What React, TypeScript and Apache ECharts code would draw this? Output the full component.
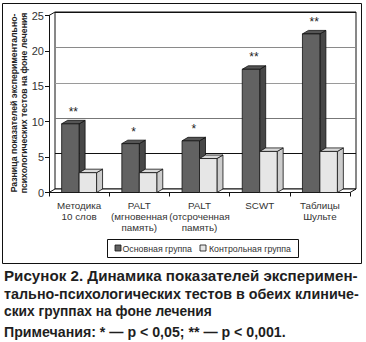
import React, { useEffect, useRef } from "react";
import * as echarts from "echarts";

const categories = [
  "Методика\n10 слов",
  "PALT\n(мгновенная\nпамять)",
  "PALT\n(отсроченная\nпамять)",
  "SCWT",
  "Таблицы\nШульте",
];
const mainGroup = [9.7, 6.9, 7.3, 17.4, 22.4];
const controlGroup = [2.8, 2.8, 4.8, 5.8, 5.8];
const significance = ["**", "*", "*", "**", "**"];
const seriesNames = ["Основная группа", "Контрольная группа"];
const yMin = 0;
const yMax = 25;
const yInterval = 5;
const yTitle = "Разница показателей экспериментально-\nпсихологических тестов на фоне лечения";
const captionLines = [
  "Рисунок 2. Динамика показателей эксперимен-",
  "тально-психологических тестов в обеих клиниче-",
  "ских группах на фоне лечения",
  "Примечания: * — p < 0,05; ** — p < 0,001.",
];

// layout
const W = 366;
const H = 342;
const FRONT_LEFT = 49;
const FRONT_RIGHT = 350;
const FRONT_TOP = 15.5;
const FRONT_BOTTOM = 192.5;
const DX = 6;
const DY = -3.5;
const CAP_WIDTHS = [354, 355, 208, 282];
const CAP_BASELINES = [281, 298.5, 316, 336.5];

const DARK = { front: "#626262", side: "#474747", top: "#555555" };
const LIGHT = { front: "#e6e6e6", side: "#cdcdcd", top: "#d9d9d9" };

function makeRender(kind: "main" | "control") {
  const col = kind === "main" ? DARK : LIGHT;
  return (params: any, api: any) => {
    const i = api.value(0);
    const v = api.value(1);
    const band = api.size([1, 0])[0];
    const w = band * 0.29;
    const c = api.coord([i, v]);
    const b = api.coord([i, 0]);
    const x0 = kind === "main" ? c[0] - w : c[0];
    const x1 = x0 + w;
    const yT = c[1];
    const yB = b[1];
    const stroke = { stroke: "#111", lineWidth: 0.8 };
    const children: any[] = [
      {
        type: "polygon",
        shape: {
          points: [
            [x1, yT],
            [x1 + DX, yT + DY],
            [x1 + DX, yB + DY],
            [x1, yB],
          ],
        },
        style: { fill: col.side, ...stroke },
      },
      {
        type: "polygon",
        shape: {
          points: [
            [x0, yT],
            [x0 + DX, yT + DY],
            [x1 + DX, yT + DY],
            [x1, yT],
          ],
        },
        style: { fill: col.top, ...stroke },
      },
      {
        type: "rect",
        shape: { x: x0, y: yT, width: w, height: yB - yT },
        style: { fill: col.front, ...stroke },
      },
    ];
    if (kind === "main") {
      children.push({
        type: "text",
        style: {
          text: significance[i],
          x: x0 + (w + DX) / 2,
          y: yT - 12,
          align: "center",
          verticalAlign: "middle",
          fontSize: 12,
          fontFamily: "Liberation Sans",
          fill: "#222",
        },
      });
    }
    return { type: "group", children };
  };
}

export default function App() {
  const ref = useRef<HTMLDivElement>(null);
  useEffect(() => {
    document.body.style.margin = "0";
    const chart = echarts.init(ref.current!, null, { renderer: "svg" });

    const capFont = "bold 14.5px 'Liberation Sans'";
    const cv = document.createElement("canvas");
    const ctx = cv.getContext("2d")!;
    ctx.font = capFont;

    const captionGraphics: any[] = captionLines.map((t, k) => {
      const mw = ctx.measureText(t).width || CAP_WIDTHS[k];
      return {
        type: "text",
        x: 4,
        y: CAP_BASELINES[k] - 5,
        scaleX: CAP_WIDTHS[k] / mw,
        style: {
          text: t,
          font: capFont,
          fill: "#1e1e1e",
          align: "left",
          verticalAlign: "middle",
        },
      };
    });

    const legendFont = "8.8px 'Liberation Sans'";
    const option: any = {
      animation: false,
      grid: [
        {
          left: FRONT_LEFT,
          right: W - FRONT_RIGHT,
          top: FRONT_TOP,
          bottom: H - FRONT_BOTTOM,
          show: false,
          z: 1,
        },
        {
          left: FRONT_LEFT + DX,
          right: W - FRONT_RIGHT - DX,
          top: FRONT_TOP + DY,
          bottom: H - FRONT_BOTTOM - DY,
          show: true,
          backgroundColor: "#fff",
          borderColor: "#111",
          borderWidth: 1,
          z: 0,
        },
      ],
      xAxis: [
        {
          type: "category",
          gridIndex: 0,
          data: categories,
          boundaryGap: true,
          axisLine: { show: true, lineStyle: { color: "#111", width: 1 } },
          axisTick: { show: true, length: 4, lineStyle: { color: "#111" } },
          axisLabel: {
            interval: 0,
            fontSize: 9.8,
            lineHeight: 11.3,
            color: "#333",
            fontFamily: "Liberation Sans",
            margin: 7,
          },
          splitLine: { show: false },
          z: 3,
        },
        {
          type: "category",
          gridIndex: 1,
          data: categories,
          show: false,
        },
      ],
      yAxis: [
        {
          type: "value",
          gridIndex: 0,
          min: yMin,
          max: yMax,
          interval: yInterval,
          axisLine: { show: true, lineStyle: { color: "#111", width: 1 } },
          axisTick: { show: true, length: 4, lineStyle: { color: "#111" } },
          axisLabel: {
            fontSize: 11,
            color: "#333",
            fontFamily: "Liberation Sans",
            margin: 5,
          },
          splitLine: { show: false },
        },
        {
          type: "value",
          gridIndex: 1,
          min: yMin,
          max: yMax,
          interval: yInterval,
          axisLine: { show: false },
          axisTick: { show: false },
          axisLabel: { show: false },
          splitLine: {
            show: true,
            lineStyle: {
              color: ["#111", "#111", "#777", "#9a9a9a", "#8a8a8a", "#111"],
              width: 1,
            },
          },
        },
      ],
      series: [
        {
          name: seriesNames[0],
          type: "custom",
          xAxisIndex: 0,
          yAxisIndex: 0,
          renderItem: makeRender("main"),
          data: mainGroup.map((v, i) => [i, v]),
          encode: { x: 0, y: 1 },
          clip: false,
          z: 4,
          itemStyle: { color: DARK.front },
        },
        {
          name: seriesNames[1],
          type: "custom",
          xAxisIndex: 0,
          yAxisIndex: 0,
          renderItem: makeRender("control"),
          data: controlGroup.map((v, i) => [i, v]),
          encode: { x: 0, y: 1 },
          clip: false,
          z: 5,
          itemStyle: { color: LIGHT.front },
        },
      ],
      graphic: [
        {
          type: "rect",
          z: -10,
          shape: { x: 2.5, y: 3.5, width: 359, height: 260 },
          style: { fill: "none", stroke: "#111", lineWidth: 1 },
        },
        {
          type: "polygon",
          z: 1,
          shape: {
            points: [
              [FRONT_LEFT, FRONT_BOTTOM],
              [FRONT_LEFT + DX, FRONT_BOTTOM + DY],
              [FRONT_RIGHT + DX, FRONT_BOTTOM + DY],
              [FRONT_RIGHT, FRONT_BOTTOM],
            ],
          },
          style: { fill: "#fff", stroke: "#111", lineWidth: 1 },
        },
        {
          type: "line",
          z: 1,
          shape: { x1: FRONT_LEFT, y1: FRONT_TOP, x2: FRONT_LEFT + DX, y2: FRONT_TOP + DY },
          style: { stroke: "#111", lineWidth: 1 },
        },
        {
          type: "text",
          x: 19,
          y: 103,
          rotation: Math.PI / 2,
          style: {
            text: yTitle,
            font: "bold 8.7px 'Liberation Sans'",
            lineHeight: 10.5,
            fill: "#222",
            align: "center",
            verticalAlign: "middle",
          },
        },
        // legend box
        {
          type: "rect",
          shape: { x: 107.5, y: 239.5, width: 191, height: 18 },
          style: { fill: "#fff", stroke: "#111", lineWidth: 1 },
        },
        {
          type: "rect",
          shape: { x: 115, y: 245, width: 6, height: 6 },
          style: { fill: DARK.front, stroke: "#111", lineWidth: 0.8 },
        },
        {
          type: "text",
          x: 122.5,
          y: 248.5,
          style: {
            text: seriesNames[0],
            font: legendFont,
            fill: "#333",
            align: "left",
            verticalAlign: "middle",
          },
        },
        {
          type: "rect",
          shape: { x: 200, y: 245, width: 6, height: 6 },
          style: { fill: LIGHT.front, stroke: "#111", lineWidth: 0.8 },
        },
        {
          type: "text",
          x: 209,
          y: 248.5,
          style: {
            text: seriesNames[1],
            font: legendFont,
            fill: "#333",
            align: "left",
            verticalAlign: "middle",
          },
        },
        ...captionGraphics,
      ],
    };
    chart.setOption(option);
    return () => chart.dispose();
  }, []);
  return (
    <div
      ref={ref}
      style={{ position: "absolute", left: 0, top: 0, width: W, height: H, background: "#fff" }}
    />
  );
}
